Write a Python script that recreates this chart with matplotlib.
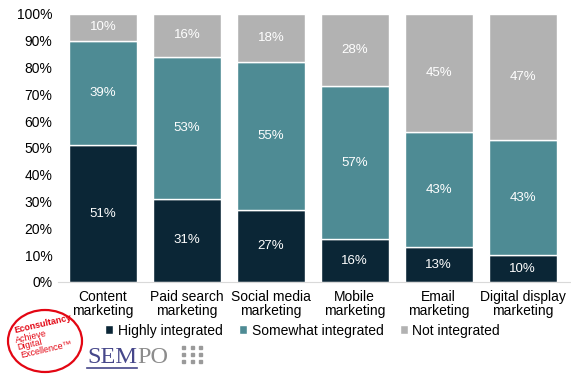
import matplotlib.pyplot as plt
import numpy as np
from matplotlib.patches import Ellipse, Rectangle
from matplotlib.lines import Line2D

plt.rcParams['font.family'] = ['Liberation Sans', 'DejaVu Sans']

categories = ['Content\nmarketing', 'Paid search\nmarketing', 'Social media\nmarketing',
              'Mobile\nmarketing', 'Email\nmarketing', 'Digital display\nmarketing']
highly = [51, 31, 27, 16, 13, 10]
somewhat = [39, 53, 55, 57, 43, 43]
not_int = [10, 16, 18, 28, 45, 47]
series_names = ['Highly integrated', 'Somewhat integrated', 'Not integrated']
colors = ['#0b2636', '#4e8b94', '#b2b2b2']

fig = plt.figure(figsize=(5.71, 3.78), dpi=100)
ax = fig.add_axes([0.1016, 0.254, 0.896, 0.709])

x = np.arange(len(categories))
w = 0.81
bottom = np.zeros(len(categories))
for vals, col, name in zip([highly, somewhat, not_int], colors, series_names):
    vals = np.array(vals, dtype=float)
    top = np.minimum(bottom + vals, 100)
    h = top - bottom
    ax.bar(x, h, w, bottom=bottom, color=col, edgecolor='white', linewidth=1, label=name)
    for xi, b, hh, v in zip(x, bottom, h, vals):
        ax.text(xi, b + hh / 2, f'{int(v)}%', ha='center', va='center',
                color='white', fontsize=9.5)
    bottom = top

ax.set_xlim(-0.536, 5.56)
ax.set_ylim(0, 100)
ax.set_yticks(range(0, 101, 10))
ax.set_yticklabels([f'{t}%' for t in range(0, 101, 10)], fontsize=10)
ax.set_xticks(x)
ax.set_xticklabels(categories, fontsize=10, linespacing=1.0)
ax.tick_params(axis='both', length=0, pad=4)
ax.tick_params(axis='x', pad=6)
for s in ['top', 'right', 'left']:
    ax.spines[s].set_visible(False)
ax.spines['bottom'].set_color('#d9d9d9')

fig.legend(loc='center', bbox_to_anchor=(0.53, 0.125), ncol=3, frameon=False,
           fontsize=10, handlelength=0.6, handleheight=0.6, handletextpad=0.3,
           columnspacing=1.2)

# Econsultancy logo (positions in inches from bottom-left)
red = '#e30613'
fig.add_artist(Ellipse((0.45, 0.37), 0.74, 0.62, transform=fig.dpi_scale_trans,
                       fill=False, edgecolor=red, linewidth=1.6))
fig.text(0.15, 0.45, 'Econsultancy', color=red, fontsize=6.5, fontweight='bold',
         rotation=13, ha='left', va='baseline', rotation_mode='anchor',
         transform=fig.dpi_scale_trans)
for txt, px, py in [('Achieve', 0.16, 0.35), ('Digital', 0.18, 0.275),
                    ('Excellence\u2122', 0.21, 0.195)]:
    fig.text(px, py, txt, color=red, fontsize=6.5, rotation=13, ha='left', va='baseline',
             rotation_mode='anchor', transform=fig.dpi_scale_trans)

# SEMPO logo
t1 = fig.text(0.87, 0.15, 'SEM', color='#46478a', fontsize=17.5, family='Liberation Serif',
              ha='left', va='baseline', transform=fig.dpi_scale_trans)
fig.canvas.draw()
bb = t1.get_window_extent()
fig.text(bb.x1 / 100, 0.15, 'PO', color='#8c8c8c', fontsize=17.5, family='Liberation Serif',
         ha='left', va='baseline', transform=fig.dpi_scale_trans)
fig.add_artist(Line2D([0.87, bb.x1 / 100], [0.10, 0.10], color='#46478a', linewidth=1.2,
                      transform=fig.dpi_scale_trans))
for i in range(3):
    for j in range(3):
        fig.add_artist(Rectangle((1.82 + i * 0.085, 0.15 + j * 0.07), 0.03, 0.03,
                                 color='#9a9a9a', transform=fig.dpi_scale_trans))

fig.savefig('out.png', dpi=100)
